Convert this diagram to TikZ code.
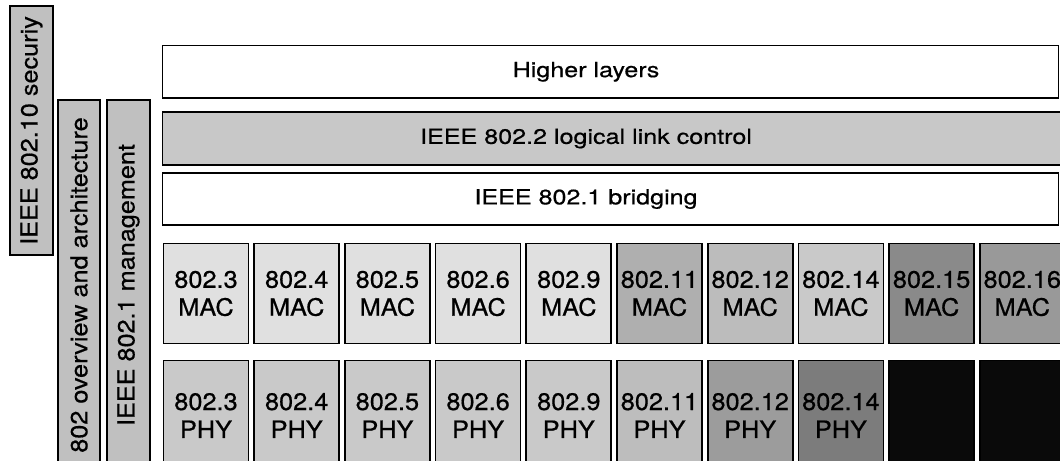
\documentclass[tikz,border=0pt]{standalone}
\usepackage{fontspec}
\setmainfont{TeX Gyre Heros}
\newfontfamily\barfont[FakeStretch=1.2,FakeBold=0.6]{TeX Gyre Heros}
\newfontfamily\boxfont[FakeStretch=1.06,FakeBold=0.6]{TeX Gyre Heros}
\newfontfamily\sidefont[FakeStretch=1.08,FakeBold=0.6]{TeX Gyre Heros}
\usetikzlibrary{positioning}
\definecolor{sidegray}{HTML}{C0C0C0}
\definecolor{llcgray}{HTML}{C8C8C8}
\definecolor{maclight}{HTML}{E0E0E0}
\definecolor{phylight}{HTML}{C9C9C9}
\definecolor{maceleven}{HTML}{AFAFAF}
\definecolor{mactwelve}{HTML}{BCBCBC}
\definecolor{macfourteen}{HTML}{C9C9C9}
\definecolor{macfifteen}{HTML}{8A8A8A}
\definecolor{macsixteen}{HTML}{999999}
\definecolor{phyeleven}{HTML}{BDBDBD}
\definecolor{phytwelve}{HTML}{9C9C9C}
\definecolor{phyfourteen}{HTML}{7C7C7C}
\definecolor{phydark}{HTML}{0A0A0A}
\tikzset{
  layerbar/.style={
    draw=black,
    line width=1pt,
    fill=white,
    minimum width=17.92cm,
    minimum height=1.05cm,
    inner sep=0pt
  },
  sidebar/.style={
    draw=black,
    line width=1pt,
    fill=sidegray,
    rotate=90,
    minimum height=0.85cm,
    inner sep=0pt,
    font=\sidefont\fontsize{13.3}{15}\selectfont
  },
  stdbox/.style={
    draw=black,
    line width=1pt,
    align=center,
    minimum width=1.70cm,
    minimum height=2.0cm,
    inner sep=0pt,
    outer sep=0pt,
    font=\boxfont\fontsize{13.6}{15.9}\selectfont
  },
  phybox/.style={
    stdbox,
    minimum height=2.2cm
  },
  lbl/.style={
    inner sep=0pt,
    font=\barfont\fontsize{11.9}{14}\selectfont
  }
}

\begin{document}
\begin{tikzpicture}[node distance=0.34cm and 0.114cm]
    \useasboundingbox (0,0) rectangle (21.2,9.2);
    \clip (0,0) rectangle (21.2,9.2);
    % side columns
    \node[sidebar, minimum width=4.98cm] (security) at (0.63,6.59) {IEEE 802.10 securiy};
    \node[sidebar, minimum width=7.4cm] (overview) at (1.58,3.5) {802 overview and architecture};
    \node[sidebar, minimum width=7.4cm] (management) at (2.57,3.5) {IEEE 802.1 management};
    % upper layers
    \node[layerbar] (higher) at (12.21,7.765) {};
    \node[layerbar, fill=llcgray, minimum width=18.15cm, minimum height=1.06cm] (llc) at (12.325,6.43) {};
    \node[layerbar, minimum height=1.04cm] (bridging) at (12.21,5.22) {};
    \node[lbl] (highertxt) at (11.72,7.765) {Higher layers};
    \node[lbl] (llctxt) at (11.72,6.43) {IEEE 802.2 logical link control};
    \node[lbl] (bridgingtxt) at (11.72,5.22) {IEEE 802.1 bridging};
    % MAC row
    \node[stdbox, fill=maclight] (mac3) at (4.12,3.33) {802.3\\MAC};
    \node[stdbox, fill=maclight, right=of mac3] (mac4) {802.4\\MAC};
    \node[stdbox, fill=maclight, right=of mac4] (mac5) {802.5\\MAC};
    \node[stdbox, fill=maclight, right=of mac5] (mac6) {802.6\\MAC};
    \node[stdbox, fill=maclight, right=of mac6] (mac9) {802.9\\MAC};
    \node[stdbox, fill=maceleven, right=of mac9] (mac11) {802.11\\MAC};
    \node[stdbox, fill=mactwelve, right=of mac11] (mac12) {802.12\\MAC};
    \node[stdbox, fill=macfourteen, right=of mac12] (mac14) {802.14\\MAC};
    \node[stdbox, fill=macfifteen, right=of mac14] (mac15) {802.15\\MAC};
    \node[stdbox, fill=macsixteen, right=of mac15] (mac16) {802.16\\MAC};
    % PHY row
    \node[phybox, fill=phylight, below=of mac3.south, anchor=north] (phy3) {802.3\\PHY};
    \node[phybox, fill=phylight, below=of mac4.south, anchor=north] (phy4) {802.4\\PHY};
    \node[phybox, fill=phylight, below=of mac5.south, anchor=north] (phy5) {802.5\\PHY};
    \node[phybox, fill=phylight, below=of mac6.south, anchor=north] (phy6) {802.6\\PHY};
    \node[phybox, fill=phylight, below=of mac9.south, anchor=north] (phy9) {802.9\\PHY};
    \node[phybox, fill=phyeleven, below=of mac11.south, anchor=north] (phy11) {802.11\\PHY};
    \node[phybox, fill=phytwelve, below=of mac12.south, anchor=north] (phy12) {802.12\\PHY};
    \node[phybox, fill=phyfourteen, below=of mac14.south, anchor=north] (phy14) {802.14\\PHY};
    \node[phybox, fill=phydark, below=of mac15.south, anchor=north] (phy15) {};
    \node[phybox, fill=phydark, below=of mac16.south, anchor=north] (phy16) {};
  \end{tikzpicture}
\end{document}
